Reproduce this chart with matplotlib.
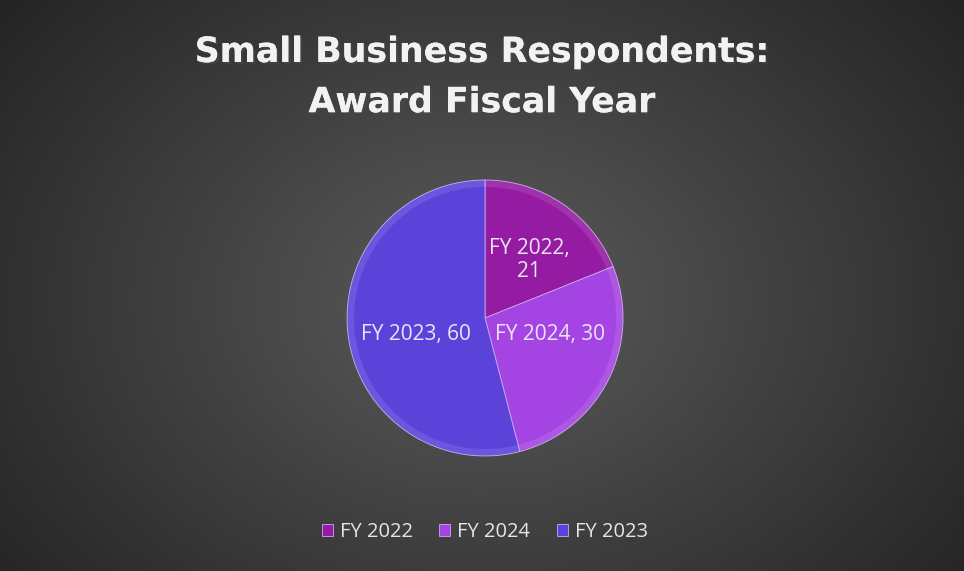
import numpy as np
import matplotlib.pyplot as plt
import matplotlib.patheffects as pe

labels = ["FY 2022", "FY 2024", "FY 2023"]
counts = [21, 30, 60]
colors = ["#951ca2", "#a444e2", "#5b43da"]
label_text = ["FY 2022,\n21", "FY 2024, 30", "FY 2023, 60"]
# where the data labels sit, in pie radius units
label_pos = [(0.32, 0.42), (0.47, -0.12), (-0.50, -0.12)]

plt.rcParams['font.family'] = ['Open Sans', 'DejaVu Sans']

fig = plt.figure(figsize=(9.64, 5.71), dpi=100)

# dark radial background
bg = fig.add_axes([0, 0, 1, 1], zorder=0)
yy, xx = np.mgrid[0:571, 0:964]
d = np.sqrt(((xx - 482) / 620.0) ** 2 + ((yy - 300) / 480.0) ** 2)
shade = np.clip(0.36 - 0.22 * d, 0.12, 0.4)
bg.imshow(np.dstack([shade] * 3), aspect='auto', extent=[0, 1, 0, 1])
bg.axis('off')

ax = fig.add_axes([0.36, 0.2014, 0.2863, 0.4834], zorder=1)
wedges, _ = ax.pie(counts, colors=colors, startangle=90, counterclock=False,
                   radius=1, wedgeprops=dict(edgecolor='#c9a8f0', linewidth=0.6))

# soft bevel along the rim
ax.pie(counts, colors=['none'] * 3, startangle=90, counterclock=False, radius=1,
       wedgeprops=dict(width=0.05, edgecolor='none', facecolor=(1, 1, 1, 0.10)))

for txt, (x, y) in zip(label_text, label_pos):
    ax.text(x, y, txt, ha='center', va='center', fontsize=15, color='#ece4f6',
            linespacing=1.15)
ax.set_xlim(-1, 1)
ax.set_ylim(-1, 1)
ax.set_aspect('equal')

fig.text(0.5, 0.865, "Small Business Respondents:\nAward Fiscal Year", ha='center',
         va='center', fontsize=25, fontweight='bold', color='#f2f2f2',
         family=['DejaVu Sans'], linespacing=1.6,
         path_effects=[pe.withSimplePatchShadow(offset=(1.5, -1.5), alpha=0.6),
                       pe.Normal()])

leg = fig.legend(wedges, labels, loc='center', bbox_to_anchor=(0.503, 0.068), ncol=3,
                 frameon=False, fontsize=14.5, labelcolor='#e6e6e6', handlelength=0.55,
                 handleheight=0.55, handletextpad=0.35, columnspacing=1.3)

fig.savefig("out.png", dpi=100)
